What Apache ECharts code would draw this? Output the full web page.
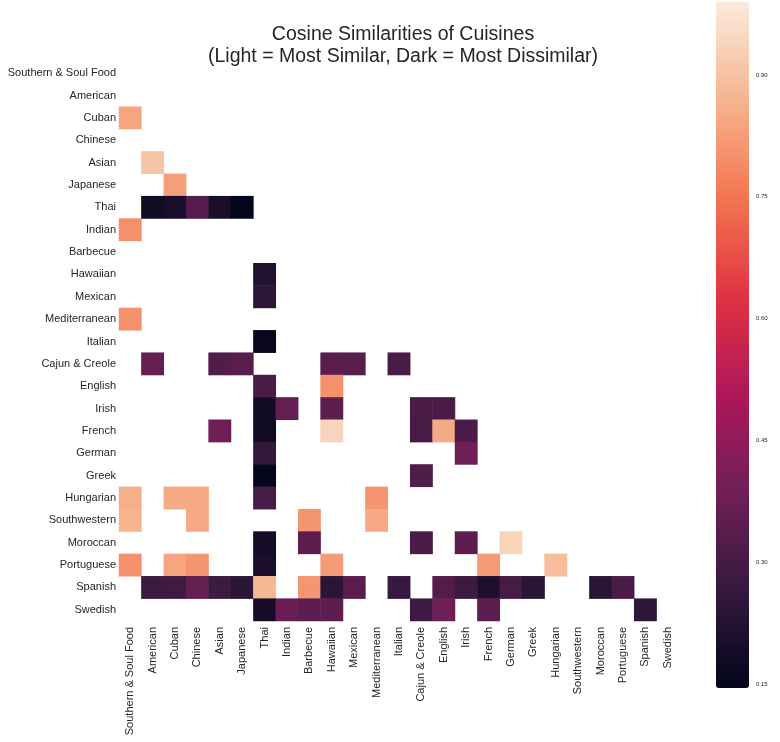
<!DOCTYPE html>
<html>
<head>
<meta charset="utf-8">
<script src="https://cdn.jsdelivr.net/npm/echarts@6/dist/echarts.min.js"></script>
<style>html,body{margin:0;padding:0;background:#fff;}#c{width:780px;height:742px;}</style>
</head>
<body>
<div id="c"></div>
<script>
const cuisines = ['Southern & Soul Food','American','Cuban','Chinese','Asian','Japanese','Thai','Indian','Barbecue','Hawaiian','Mexican','Mediterranean','Italian','Cajun & Creole','English','Irish','French','German','Greek','Hungarian','Southwestern','Moroccan','Portuguese','Spanish','Swedish'];
const colorbarTicks = [0.15, 0.30, 0.45, 0.60, 0.75, 0.90];
const colorbarLabels = ['0.15','0.30','0.45','0.60','0.75','0.90'];
const colorMin = 0.145, colorMax = 0.99;
const rocketColors = ['#03051a','#35193e','#701f57','#ad1759','#e13342','#f37651','#f6b48f','#faebdd'];

// each row: [column cuisine, similarity]
const rowCuban = [['Southern & Soul Food',0.84]];
const rowAsian = [['American',0.905]];
const rowJapanese = [['Cuban',0.83]];
const rowThai = [['American',0.18],['Cuban',0.20],['Chinese',0.33],['Asian',0.20],['Japanese',0.15]];
const rowIndian = [['Southern & Soul Food',0.80]];
const rowHawaiian = [['Thai',0.22]];
const rowMexican = [['Thai',0.25]];
const rowMediterranean = [['Southern & Soul Food',0.80]];
const rowItalian = [['Thai',0.16]];
const rowCajun = [['American',0.36],['Asian',0.32],['Japanese',0.34],['Hawaiian',0.34],['Mexican',0.34],['Italian',0.31]];
const rowEnglish = [['Thai',0.31],['Hawaiian',0.80]];
const rowIrish = [['Thai',0.18],['Indian',0.36],['Hawaiian',0.35],['Cajun & Creole',0.31],['English',0.31]];
const rowFrench = [['Asian',0.38],['Thai',0.18],['Hawaiian',0.94],['Cajun & Creole',0.30],['English',0.85],['Irish',0.31]];
const rowGerman = [['Thai',0.26],['Irish',0.38]];
const rowGreek = [['Thai',0.15],['Cajun & Creole',0.32]];
const rowHungarian = [['Southern & Soul Food',0.86],['Cuban',0.85],['Chinese',0.85],['Thai',0.30],['Mediterranean',0.81]];
const rowSouthwestern = [['Southern & Soul Food',0.87],['Chinese',0.85],['Barbecue',0.81],['Mediterranean',0.85]];
const rowMoroccan = [['Thai',0.19],['Barbecue',0.35],['Cajun & Creole',0.31],['Irish',0.35],['German',0.94]];
const rowPortuguese = [['Southern & Soul Food',0.80],['Cuban',0.84],['Chinese',0.81],['Thai',0.20],['Hawaiian',0.82],['French',0.82],['Hungarian',0.89]];
const rowSpanish = [['American',0.28],['Cuban',0.29],['Chinese',0.36],['Asian',0.28],['Japanese',0.24],['Thai',0.88],['Barbecue',0.81],['Hawaiian',0.24],['Mexican',0.34],['Italian',0.27],['English',0.33],['Irish',0.28],['French',0.21],['German',0.30],['Greek',0.24],['Moroccan',0.24],['Portuguese',0.31]];
const rowSwedish = [['Thai',0.19],['Indian',0.37],['Barbecue',0.35],['Hawaiian',0.35],['Cajun & Creole',0.28],['English',0.38],['French',0.35],['Spanish',0.25]];

const rows = [
  ['Cuban', rowCuban], ['Asian', rowAsian], ['Japanese', rowJapanese], ['Thai', rowThai],
  ['Indian', rowIndian], ['Hawaiian', rowHawaiian], ['Mexican', rowMexican],
  ['Mediterranean', rowMediterranean], ['Italian', rowItalian], ['Cajun & Creole', rowCajun],
  ['English', rowEnglish], ['Irish', rowIrish], ['French', rowFrench], ['German', rowGerman],
  ['Greek', rowGreek], ['Hungarian', rowHungarian], ['Southwestern', rowSouthwestern],
  ['Moroccan', rowMoroccan], ['Portuguese', rowPortuguese], ['Spanish', rowSpanish], ['Swedish', rowSwedish]
];
const heatData = [];
rows.forEach(([rName, cells]) => {
  cells.forEach(([cName, v]) => heatData.push([cName, rName, v]));
});

const FONT = 'Liberation Sans, Arial, sans-serif';
const TXT = '#262626';
const chart = echarts.init(document.getElementById('c'), null, {renderer: 'canvas'});
chart.setOption({
  backgroundColor: '#ffffff',
  animation: false,
  title: {
    text: 'Cosine Similarities of Cuisines\n(Light = Most Similar, Dark = Most Dissimilar)',
    left: 398, top: 19, textAlign: 'center',
    textStyle: {fontFamily: FONT, fontSize: 19.5, fontWeight: 'normal', color: TXT, lineHeight: 22}
  },
  grid: [
    {left: 119, top: 62, width: 560, height: 559, containLabel: false, outerBoundsMode: 'none'},
    {left: 716, top: 2, width: 33, height: 686, containLabel: false, outerBoundsMode: 'none'}
  ],
  xAxis: [
    {type: 'category', data: cuisines, gridIndex: 0,
     axisLine: {show: false}, axisTick: {show: false}, splitLine: {show: false},
     axisLabel: {rotate: 90, margin: 6, fontFamily: FONT, fontSize: 11, color: TXT, interval: 0}},
    {type: 'value', gridIndex: 1, show: false, min: 0, max: 1}
  ],
  yAxis: [
    {type: 'category', data: cuisines, inverse: true, gridIndex: 0,
     axisLine: {show: false}, axisTick: {show: false}, splitLine: {show: false},
     axisLabel: {margin: 3, fontFamily: FONT, fontSize: 11, color: TXT, interval: 0}},
    {type: 'value', gridIndex: 1, position: 'right', min: colorMin, max: colorMax,
     axisLine: {show: false}, splitLine: {show: false},
     axisTick: {show: true, length: 3, lineStyle: {color: TXT, width: 0.8}, customValues: colorbarTicks},
     axisLabel: {show: true, margin: 7, fontFamily: FONT, fontSize: 6, color: TXT,
       customValues: colorbarTicks,
       formatter: v => colorbarLabels[colorbarTicks.findIndex(t => Math.abs(t - v) < 1e-6)] || v.toFixed(2)}}
  ],
  visualMap: {
    type: 'continuous', seriesIndex: 0, min: colorMin, max: colorMax,
    calculable: false, hoverLink: false, show: true,
    left: 716, top: 2, itemWidth: 33, itemHeight: 686, padding: 0,
    text: null, showLabel: false,
    inRange: {color: rocketColors}
  },
  series: [
    {type: 'heatmap', xAxisIndex: 0, yAxisIndex: 0, data: heatData,
     itemStyle: {borderWidth: 0}, emphasis: {disabled: true}, silent: true},
    {type: 'scatter', xAxisIndex: 1, yAxisIndex: 1, data: [], silent: true}
  ]
});
</script>
</body>
</html>
